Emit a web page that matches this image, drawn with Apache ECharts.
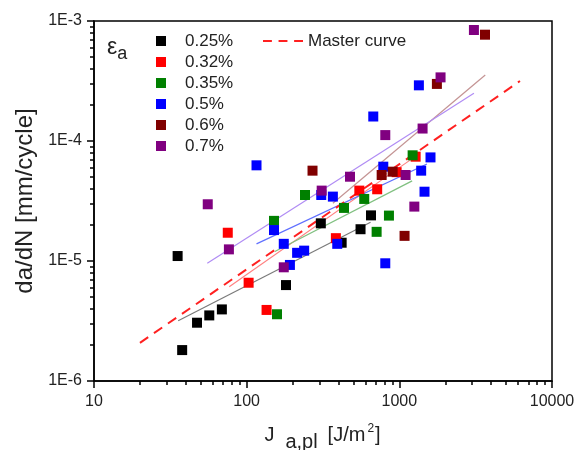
<!DOCTYPE html>
<html>
<head>
<meta charset="utf-8">
<script src="https://cdn.jsdelivr.net/npm/echarts@6/dist/echarts.min.js"></script>
<style>
html,body{margin:0;padding:0;background:#fff;}
#chart{width:579px;height:450px;}
</style>
</head>
<body>
<div id="chart"></div>
<script>
// ---- data ----
const seriesNames = ['0.25%', '0.32%', '0.35%', '0.5%', '0.6%', '0.7%'];
const x025 = [35.3, 37.8, 47.3, 56.9, 68.8, 181, 306, 419, 557, 652];
const y025 = [1.1e-5, 1.81e-6, 3.06e-6, 3.52e-6, 3.95e-6, 6.3e-6, 2.06e-5, 1.42e-5, 1.84e-5, 2.4e-5];
const x032 = [75.2, 103, 135, 384, 547, 716, 960, 1279];
const y032 = [1.72e-5, 6.59e-6, 3.91e-6, 1.55e-5, 3.86e-5, 3.96e-5, 5.5e-5, 7.4e-5];
const x035 = [151, 158, 241, 434, 589, 710, 855, 1222];
const y035 = [2.16e-5, 3.6e-6, 3.55e-5, 2.77e-5, 3.29e-5, 1.75e-5, 2.39e-5, 7.6e-5];
const x05 = [116, 151, 175, 192, 214, 238, 308, 367, 392, 675, 785, 809, 1343, 1390, 1462, 1600];
const y05 = [6.27e-5, 1.81e-5, 1.39e-5, 9.27e-6, 1.17e-5, 1.22e-5, 3.55e-5, 3.44e-5, 1.39e-5, 1.6e-4, 6.11e-5, 9.57e-6, 2.91e-4, 5.66e-5, 3.78e-5, 7.3e-5];
const x06 = [270, 766, 904, 1082, 1762, 3640];
const y06 = [5.66e-5, 5.21e-5, 5.55e-5, 1.62e-5, 2.99e-4, 7.69e-4];
const x07 = [55.6, 76.5, 175, 310, 475, 809, 1099, 1254, 1420, 1862, 3080];
const y07 = [2.97e-5, 1.25e-5, 8.86e-6, 3.86e-5, 5.04e-5, 1.12e-4, 5.21e-5, 2.84e-5, 1.27e-4, 3.39e-4, 8.41e-4];

// linear fits (end points)
const fit025X = [35.6, 648],  fit025Y = [3.18e-6, 2.1e-5];
const fit032X = [76.9, 1227], fit032Y = [6.1e-6, 7.2e-5];
const fit035X = [153, 1213],  fit035Y = [1.2e-5, 4.65e-5];
const fit05X  = [116, 1517],  fit05Y  = [1.39e-5, 6.43e-5];
const fit06X  = [367, 3655],  fit06Y  = [3.03e-5, 3.55e-4];
const fit07X  = [55.2, 3080], fit07Y  = [9.57e-6, 2.5e-4];
// master curve
const masterX = [20, 6170], masterY = [2.08e-6, 3.16e-4];

// axis ticks
const xTicks = [10, 100, 1000, 10000];
const yTicks = [1e-6, 1e-5, 1e-4, 1e-3];
const xMinor = [];
const yMinor = [];
[10, 100, 1000].forEach(d => { for (let k = 2; k <= 9; k++) xMinor.push(k * d); });
[1e-6, 1e-5, 1e-4].forEach(d => { for (let k = 2; k <= 9; k++) yMinor.push(k * d); });

// ---- styling ----
const markerColors = ['#000000', '#ff0000', '#008000', '#0000ff', '#800000', '#800080'];
const fitColors = ['#7a7a7a', '#ff8080', '#80c080', '#6070ff', '#c49494', '#b08cf4'];
const FONT = 'Arial, "Liberation Sans", sans-serif';

const zip = (xs, ys) => xs.map((x, i) => [x, ys[i]]);
const scatterX = [x025, x032, x035, x05, x06, x07];
const scatterY = [y025, y032, y035, y05, y06, y07];
const fitsX = [fit025X, fit032X, fit035X, fit05X, fit06X, fit07X];
const fitsY = [fit025Y, fit032Y, fit035Y, fit05Y, fit06Y, fit07Y];

const series = [];
fitsX.forEach((fx, i) => {
  series.push({
    name: 'fit ' + seriesNames[i], type: 'line', data: zip(fx, fitsY[i]),
    symbol: 'none', silent: true, z: 2,
    lineStyle: { color: fitColors[i], width: 1.2 }
  });
});
series.push({
  name: 'Master curve', type: 'line', data: zip(masterX, masterY),
  symbol: 'none', showSymbol: false, silent: true, z: 3, color: '#ff2020',
  lineStyle: { color: '#ff2020', width: 2, type: [10, 7] }
});
scatterX.forEach((sx, i) => {
  series.push({
    name: seriesNames[i], type: 'scatter', data: zip(sx, scatterY[i]),
    symbol: 'rect', symbolSize: 10, z: 4, color: markerColors[i],
    itemStyle: { color: markerColors[i], opacity: 1 }
  });
});

const chart = echarts.init(document.getElementById('chart'), null, { renderer: 'canvas' });
chart.setOption({
  animation: false,
  backgroundColor: '#ffffff',
  textStyle: { fontFamily: FONT },
  grid: { left: 94, right: 27, top: 21, bottom: 69, outerBoundsMode: 'none', show: true, borderColor: '#000', borderWidth: 1.5, backgroundColor: 'transparent' },
  legend: [{
    data: seriesNames, orient: 'vertical', left: 156, top: 31, padding: 0,
    itemWidth: 38, itemHeight: 10, itemGap: 1,
    icon: 'path://M0 0H10V10H0Z',
    textStyle: { fontSize: 17, color: '#222', lineHeight: 20, fontFamily: FONT },
    selectedMode: false
  }, {
    data: [{ name: 'Master curve', icon: 'path://M0 0H8V2H0Z M14 0H22V2H14Z M28 0H36V2H28Z' }],
    left: 263, top: 31, padding: 0,
    itemWidth: 40, itemHeight: 20,
    itemStyle: { color: '#ff2020' },
    textStyle: { fontSize: 17, color: '#222', lineHeight: 20, fontFamily: FONT },
    selectedMode: false
  }],
  xAxis: [{
    type: 'log', logBase: 10, min: xTicks[0], max: xTicks[xTicks.length - 1], position: 'bottom',
    name: '{n|J}{s|a,pl}{n|[J/m}{p|2}{n|]}', nameLocation: 'middle', nameGap: 44,
    nameTextStyle: {
      rich: {
        n: { fontSize: 20, color: '#222', verticalAlign: 'top', lineHeight: 22, padding: [0, 1, 0, 0], fontFamily: FONT },
        s: { fontSize: 20, color: '#222', verticalAlign: 'top', lineHeight: 22, padding: [7, 10, 0, 10], fontFamily: FONT },
        p: { fontSize: 12, color: '#222', verticalAlign: 'top', lineHeight: 12, padding: [-2, 1, 0, 1], fontFamily: FONT }
      }
    },
    axisLine: { show: true, lineStyle: { color: '#000', width: 1.5 } },
    axisTick: { show: true, length: 7, inside: false, lineStyle: { color: '#000', width: 1.5 } },
    axisLabel: { fontSize: 16, color: '#222', margin: 13, fontFamily: FONT, formatter: v => String(Math.round(v)) },
    splitLine: { show: false }
  }, {
    type: 'log', logBase: 10, min: xTicks[0], max: xTicks[xTicks.length - 1], position: 'bottom',
    axisLine: { show: false }, axisLabel: { show: false }, splitLine: { show: false },
    axisTick: { show: true, length: 4, inside: false, customValues: xMinor, lineStyle: { color: '#000', width: 1.5 } }
  }],
  yAxis: [{
    type: 'log', logBase: 10, min: yTicks[0], max: yTicks[yTicks.length - 1], position: 'left',
    name: 'da/dN [mm/cycle]', nameLocation: 'middle', nameGap: 57, nameRotate: 90,
    nameTextStyle: { fontSize: 24, color: '#222', fontFamily: FONT },
    axisLine: { show: true, lineStyle: { color: '#000', width: 1.5 } },
    axisTick: { show: true, length: 7, inside: false, lineStyle: { color: '#000', width: 1.5 } },
    axisLabel: { fontSize: 16, color: '#222', margin: 12, fontFamily: FONT,
      formatter: v => '1E' + Math.round(Math.log10(v)) },
    splitLine: { show: false }
  }, {
    type: 'log', logBase: 10, min: yTicks[0], max: yTicks[yTicks.length - 1], position: 'left',
    axisLine: { show: false }, axisLabel: { show: false }, splitLine: { show: false },
    axisTick: { show: true, length: 4, inside: false, customValues: yMinor, lineStyle: { color: '#000', width: 1.5 } }
  }],
  graphic: [{
    type: 'text', left: 107, top: 36,
    style: {
      text: '{e|ε}{a|a}',
      rich: {
        e: { fontSize: 23, fill: '#222', verticalAlign: 'top', lineHeight: 24, fontFamily: FONT },
        a: { fontSize: 18, fill: '#222', verticalAlign: 'top', lineHeight: 24, padding: [9, 0, 0, 0], fontFamily: FONT }
      }
    }
  }],
  series: series
});
</script>
</body>
</html>
